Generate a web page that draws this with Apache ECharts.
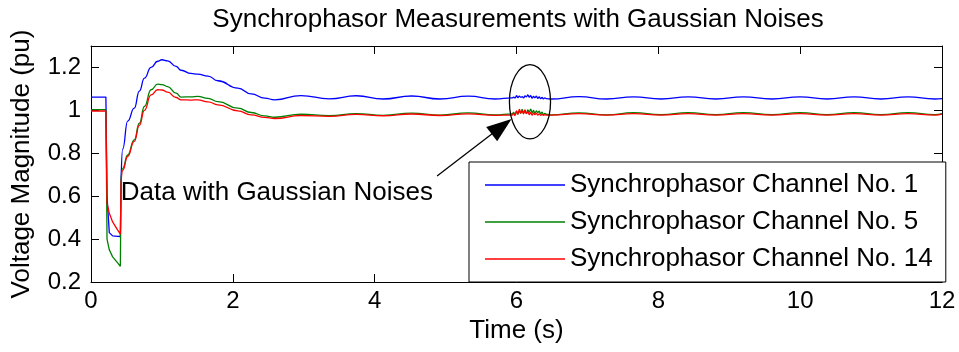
<!DOCTYPE html>
<html><head><meta charset="utf-8">
<script src="https://cdn.jsdelivr.net/npm/echarts@6/dist/echarts.min.js"></script>
<style>html,body{margin:0;padding:0;background:#fff}#c{width:959px;height:352px}</style>
</head><body><div id="c"></div>
<script>
// Time stamps (s)
const timeS = [0,0.21,0.226,0.258,0.305,0.376,0.414,0.424,0.447,0.517,0.61,0.682,0.753,0.847,0.94,1.0,1.08,1.2,1.27,1.41,1.505,1.65,1.79,2.07,2.26,2.45,2.59,2.96,3.36,3.74,4.12,4.52,4.92,5.32,5.7,
  5.94,5.96,5.98,6.00,6.02,6.04,6.06,6.08,6.10,6.12,6.14,6.16,6.18,6.20,6.22,6.24,6.26,6.28,6.30,6.32,6.34,6.36,6.38,6.40,6.42,
  6.49,6.88,7.27,7.65,8.04,8.42,8.81,9.2,9.6,10.0,10.38,10.76,11.14,11.52,11.9,12.0];
// Synchrophasor Channel No. 1 (pu)
const ch1 = [1.062,1.062,0.60,0.43,0.415,0.413,0.412,0.675,0.82,0.95,1.01,1.09,1.15,1.20,1.229,1.236,1.231,1.205,1.187,1.172,1.169,1.16,1.138,1.104,1.077,1.057,1.049,1.069,1.054,1.068,1.053,1.067,1.053,1.066,1.053,
  1.058,1.062,1.058,1.068,1.060,1.066,1.061,1.064,1.058,1.067,1.063,1.072,1.062,1.068,1.057,1.065,1.059,1.066,1.056,1.063,1.055,1.060,1.054,1.058,1.055,
  1.053,1.064,1.053,1.063,1.053,1.063,1.053,1.063,1.053,1.063,1.053,1.063,1.053,1.063,1.053,1.055];
// Synchrophasor Channel No. 5 (pu)
const ch5 = [1.003,1.003,0.40,0.35,0.317,0.289,0.273,0.68,0.73,0.792,0.862,0.94,1.018,1.096,1.122,1.12,1.111,1.08,1.062,1.063,1.065,1.056,1.041,1.01,0.99,0.974,0.968,0.982,0.975,0.985,0.977,0.987,0.978,0.988,0.979,
  0.984,0.990,0.980,0.995,0.984,0.998,0.986,1.004,0.990,0.996,0.985,1.002,0.992,1.006,0.990,1.000,0.986,0.998,0.990,0.996,0.984,0.992,0.980,0.986,0.982,
  0.979,0.988,0.979,0.989,0.980,0.989,0.980,0.989,0.980,0.989,0.980,0.989,0.980,0.989,0.980,0.985];
// Synchrophasor Channel No. 14 (pu)
const ch14 = [0.997,0.997,0.566,0.52,0.48,0.442,0.423,0.66,0.72,0.785,0.855,0.93,1.0,1.072,1.096,1.095,1.085,1.06,1.049,1.048,1.049,1.04,1.026,0.998,0.979,0.967,0.962,0.976,0.972,0.981,0.975,0.983,0.976,0.984,0.977,
  0.978,0.986,0.976,0.998,0.982,1.004,0.988,0.996,0.984,1.002,0.986,0.994,0.980,0.990,0.978,0.988,0.980,0.986,0.978,0.984,0.977,0.981,0.977,0.980,0.978,
  0.978,0.985,0.978,0.985,0.978,0.985,0.978,0.985,0.978,0.985,0.978,0.985,0.978,0.985,0.978,0.982];
const seriesNames = ['Synchrophasor Channel No. 1','Synchrophasor Channel No. 5','Synchrophasor Channel No. 14'];
const seriesColors = ['#0000ff','#008000','#ff0000'];
// Annotation anchors in data coordinates
const noteText = 'Data with Gaussian Noises';
const noteTextAt = [0.42, 0.617];
const arrowTail = [4.88, 0.694];
const arrowTip = [5.93, 0.96];
const ellipseCenter = [6.19, 1.04];
const ellipseRadius = [0.29, 0.173];
const clearIndex = 7; // fault-clearing sample: fault part drawn straight, recovery drawn smooth

const FONT = "'Liberation Sans', Arial, Helvetica, sans-serif";
const chart = echarts.init(document.getElementById('c'), null, {renderer: 'canvas'});
const mk = (vals) => timeS.map((t, i) => [t, vals[i]]);
const axisCommon = {
  type: 'value',
  axisLine: {show: true, onZero: false, lineStyle: {color: '#000', width: 1}},
  axisTick: {show: true, inside: true, length: 8, lineStyle: {color: '#000', width: 1}},
  splitLine: {show: false}
};
const series = [];
[ch1, ch5, ch14].forEach((vals, i) => {
  const pts = mk(vals);
  const base = {name: seriesNames[i], type: 'line', symbol: 'none', xAxisIndex: 0, yAxisIndex: 0,
    lineStyle: {color: seriesColors[i], width: 1.3}, itemStyle: {color: seriesColors[i]}, color: seriesColors[i], z: 2 + i};
  series.push(Object.assign({}, base, {data: pts.slice(0, clearIndex + 1), smooth: false}));
  series.push(Object.assign({}, base, {data: pts.slice(clearIndex), smooth: 0.5, smoothMonotone: 'x'}));
});
const option = {
  animation: false,
  backgroundColor: '#fff',
  textStyle: {fontFamily: FONT},
  title: {
    text: 'Synchrophasor Measurements with Gaussian Noises',
    left: 518, top: 7, padding: 0, textAlign: 'center',
    textStyle: {fontFamily: FONT, fontSize: 26, fontWeight: 'normal', color: '#000'}
  },
  grid: {left: 91, top: 46, right: 17, bottom: 70, containLabel: false},
  xAxis: [
    Object.assign({}, axisCommon, {
      position: 'bottom', min: 0, max: 12, interval: 2,
      name: 'Time (s)', nameLocation: 'middle', nameGap: 36,
      nameTextStyle: {fontFamily: FONT, fontSize: 26, color: '#000'},
      axisLabel: {show: true, margin: 7, fontFamily: FONT, fontSize: 24, color: '#000'}
    }),
    Object.assign({}, axisCommon, {
      position: 'top', min: 0, max: 12, interval: 2, axisLabel: {show: false}
    })
  ],
  yAxis: [
    Object.assign({}, axisCommon, {
      position: 'left', min: 0.2, max: 1.3, interval: 0.2,
      name: 'Voltage Magnitude (pu)', nameLocation: 'middle', nameGap: 56,
      nameTextStyle: {fontFamily: FONT, fontSize: 26, color: '#000'},
      axisLabel: {show: true, margin: 10, fontFamily: FONT, fontSize: 24, color: '#000', showMaxLabel: false,
        formatter: v => String(parseFloat(Number(v).toFixed(1)))}
    }),
    Object.assign({}, axisCommon, {
      position: 'right', min: 0.2, max: 1.3, interval: 0.2, axisLabel: {show: false}
    })
  ],
  legend: {
    show: true, orient: 'vertical', left: 469, top: 162,
    padding: [10, 13, 10, 16], itemGap: 11, itemWidth: 80, itemHeight: 26,
    icon: 'path://M0,0L80,0L80,1.3L0,1.3Z', symbolKeepAspect: true,
    backgroundColor: '#fff', borderColor: '#000', borderWidth: 1,
    textStyle: {fontFamily: FONT, fontSize: 26, color: '#000'},
    data: seriesNames
  },
  series: series
};
chart.setOption(option);

const px = p => chart.convertToPixel({xAxisIndex: 0, yAxisIndex: 0}, p);
const c = px(ellipseCenter);
const e = px([ellipseCenter[0] + ellipseRadius[0], ellipseCenter[1] + ellipseRadius[1]]);
const a0 = px(arrowTail), a1 = px(arrowTip);
const dx = a1[0] - a0[0], dy = a1[1] - a0[1];
const L = Math.hypot(dx, dy), ux = dx / L, uy = dy / L;
const headLen = 25, headHalf = 9;
const bx = a1[0] - ux * headLen, by = a1[1] - uy * headLen;
const tp = px(noteTextAt);
chart.setOption({
  graphic: [
    {type: 'ellipse', shape: {cx: c[0], cy: c[1], rx: Math.abs(e[0] - c[0]), ry: Math.abs(c[1] - e[1])},
      style: {fill: 'none', stroke: '#000', lineWidth: 1.3}, z: 10},
    {type: 'line', shape: {x1: a0[0], y1: a0[1], x2: bx + ux * 3, y2: by + uy * 3},
      style: {stroke: '#000', lineWidth: 1.3}, z: 10},
    {type: 'polygon', shape: {points: [[a1[0], a1[1]], [bx - uy * headHalf, by + ux * headHalf], [bx + uy * headHalf, by - ux * headHalf]]},
      style: {fill: '#000'}, z: 10},
    {type: 'text', x: tp[0], y: tp[1], z: 10,
      style: {text: noteText, fill: '#000', font: "26px 'Liberation Sans', Arial, sans-serif", align: 'left', verticalAlign: 'middle'}}
  ]
});
</script></body></html>
